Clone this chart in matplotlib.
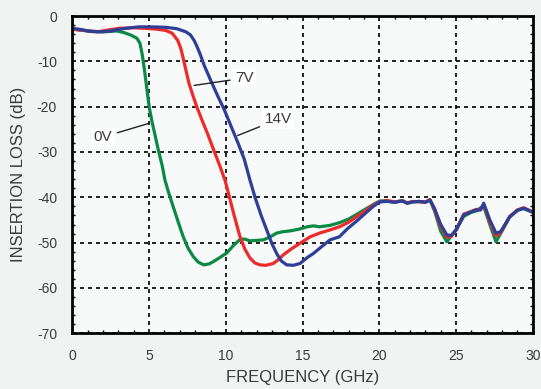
import matplotlib.pyplot as plt
from matplotlib.ticker import MultipleLocator

plt.rcParams['font.family'] = ['Liberation Sans', 'DejaVu Sans']
plt.rcParams['axes.unicode_minus'] = False

# Data (frequency in GHz, insertion loss in dB)
f_0v = [0, 1, 2, 2.9, 3.4, 3.8, 4.2, 4.4, 4.55, 4.7, 4.85, 5.0, 5.2, 5.4, 5.6, 5.85,
        6.03, 6.3, 6.57, 6.9, 7.22, 7.55, 7.88, 8.2, 8.55, 8.9, 9.18, 9.6, 10.05, 10.5,
        10.92, 11.2, 11.57, 12.0, 12.44, 12.9, 13.3, 13.7, 14.2, 14.8, 15.3, 15.7, 16.1,
        16.78, 17.4, 18.0, 18.6, 19.2, 19.7, 20.04, 20.5, 21.0, 21.5, 21.8, 22.2, 22.6,
        23.0, 23.3, 23.6, 24.0, 24.4, 24.8, 25.0, 25.5, 26.0, 26.4, 26.6, 26.8, 27.2,
        27.6, 27.9, 28.5, 29.0, 29.4, 30]
il_0v = [-2.9, -3.3, -3.5, -3.3, -3.7, -4.2, -4.9, -6, -8.5, -12, -16, -20, -23.5, -26.5,
         -29.6, -33, -36.2, -39.3, -42.1, -45.5, -48.7, -51.3, -53.1, -54.3, -54.9, -54.7,
         -54.2, -53.3, -52.3, -50.6, -49.3, -49.2, -49.6, -49.5, -49.4, -48.7, -47.9,
         -47.6, -47.4, -47.0, -46.5, -46.3, -46.5, -46.2, -45.6, -44.8, -43.6, -42.4,
         -41.4, -40.8, -40.8, -41.1, -40.7, -41.3, -41.0, -40.9, -41.1, -40.6, -43, -47.5,
         -49.8, -48, -47.2, -44.2, -43.3, -42.9, -42.3, -42, -46, -49.8, -48, -44.3,
         -42.8, -42.5, -43.3]

f_7v = [0, 0.8, 1.6, 2.3, 3.1, 4.0, 4.7, 5.5, 6.1, 6.5, 6.85, 7.05, 7.2, 7.4, 7.6, 7.85,
        8.1, 8.45, 8.8, 9.2, 9.6, 9.94, 10.2, 10.5, 10.92, 11.25, 11.57, 11.9, 12.22,
        12.6, 13.09, 13.4, 13.74, 14.3, 14.85, 15.5, 16.1, 16.78, 17.4, 18.0, 18.6, 19.2,
        19.7, 20.04, 20.5, 21.0, 21.5, 21.8, 22.2, 22.6, 23.0, 23.3, 23.6, 24.0, 24.4,
        24.7, 25.0, 25.5, 26.0, 26.3, 26.6, 26.8, 27.2, 27.6, 27.9, 28.5, 29.0, 29.4, 30]
il_7v = [-2.9, -3.2, -3.5, -3.1, -2.7, -2.6, -2.7, -2.9, -3.2, -3.8, -5.3, -7, -9, -12,
         -14.9, -17.5, -20, -23, -25.9, -29.5, -33, -36.2, -39.5, -43.5, -48.7, -51.5,
         -53.4, -54.5, -54.9, -55, -54.6, -53.8, -52.7, -51.3, -50.1, -48.7, -47.9,
         -47.2, -46.5, -45.5, -44.1, -42.7, -41.5, -41.0, -40.7, -41.0, -40.8, -41.2,
         -40.9, -41.0, -41.0, -40.5, -42.8, -46.5, -48.8, -48.6, -47.2, -43.7, -43.1,
         -42.7, -42.6, -41.6, -45.5, -48.5, -47.8, -44.2, -42.8, -42.3, -43.2]

f_14v = [0, 0.6, 1.15, 1.8, 2.5, 3.3, 4.3, 5.2, 6.1, 6.8, 7.4, 7.7, 7.95, 8.15, 8.3, 8.6,
         9.0, 9.45, 9.9, 10.35, 10.8, 11.2, 11.57, 11.9, 12.3, 12.66, 13.0, 13.31, 13.6,
         13.96, 14.4, 14.83, 15.3, 15.7, 16.2, 16.78, 17.4, 17.9, 18.5, 19.1, 19.6, 20.04,
         20.5, 21.0, 21.5, 21.8, 22.2, 22.6, 23.0, 23.3, 23.6, 24.0, 24.4, 24.7, 25.0,
         25.5, 26.0, 26.3, 26.6, 26.8, 27.2, 27.6, 27.9, 28.5, 29.0, 29.4, 30]
il_14v = [-2.7, -3.0, -3.4, -3.5, -3.3, -2.8, -2.4, -2.4, -2.5, -2.8, -3.5, -4.2, -5.5,
          -7, -8.2, -11, -14.1, -17.5, -20.7, -24.4, -28.1, -31.6, -36.2, -40.0, -44,
          -47.2, -50.2, -52.4, -54, -54.9, -55, -54.6, -53.3, -52.4, -51, -49.4, -48.7,
          -47.0, -45.3, -43.5, -42.0, -41.0, -40.9, -41.1, -40.8, -41.3, -41.0, -40.9,
          -41.1, -40.6, -42.5, -46, -48.3, -48.4, -47.2, -43.9, -43.2, -42.8, -42.8,
          -41.3, -45, -47.9, -47.6, -44.3, -42.9, -42.4, -43.3]

text_col = '#3a3a3a'

fig = plt.figure(figsize=(5.41, 3.89), dpi=100, facecolor='#f1f2f2')
ax = fig.add_axes([72.4 / 541, 1 - 333.3 / 389, 460.4 / 541, 317.3 / 389])
ax.set_facecolor('#f8f9f9')

ax.plot(f_0v, il_0v, color='#0a8a43', lw=2.3, solid_capstyle='round')
ax.plot(f_7v, il_7v, color='#ee2a2a', lw=2.3, solid_capstyle='round')
ax.plot(f_14v, il_14v, color='#2e3f98', lw=2.3, solid_capstyle='round')

ax.set_xlim(0, 30)
ax.set_ylim(-70, 0)
ax.xaxis.set_major_locator(MultipleLocator(5))
ax.xaxis.set_minor_locator(MultipleLocator(1))
ax.yaxis.set_major_locator(MultipleLocator(10))
ax.yaxis.set_minor_locator(MultipleLocator(2))
ax.grid(True, which='major', color='black', linestyle=(0, (2.4, 2.4)), lw=1.2)
ax.tick_params(which='both', direction='in', top=True, right=True, color='black')
ax.tick_params(which='major', length=0, labelsize=10, labelcolor=text_col, pad=11)
ax.tick_params(which='minor', length=2.5, width=1)
for s in ax.spines.values():
    s.set_linewidth(2)

ax.set_xlabel('FREQUENCY (GHz)', fontsize=12, color=text_col, labelpad=5)
ax.set_ylabel('INSERTION LOSS (dB)', fontsize=12, color=text_col, labelpad=8)

box = dict(boxstyle='square,pad=0.15', fc='white', ec='none')
arrow = dict(arrowstyle='-', color='#222222', lw=1)
ax.annotate('0V', xy=(5.17, -23.5), xytext=(2.0, -26.7), fontsize=11, color=text_col,
            ha='center', va='center', bbox=box, arrowprops=arrow)
ax.annotate('7V', xy=(7.75, -15.4), xytext=(11.2, -13.7), fontsize=11, color=text_col,
            ha='center', va='center', bbox=box, arrowprops=arrow)
ax.annotate('14V', xy=(10.6, -26.6), xytext=(13.4, -22.8), fontsize=11, color=text_col,
            ha='center', va='center', bbox=box, arrowprops=arrow)

fig.savefig('out.png', dpi=100, facecolor=fig.get_facecolor())
